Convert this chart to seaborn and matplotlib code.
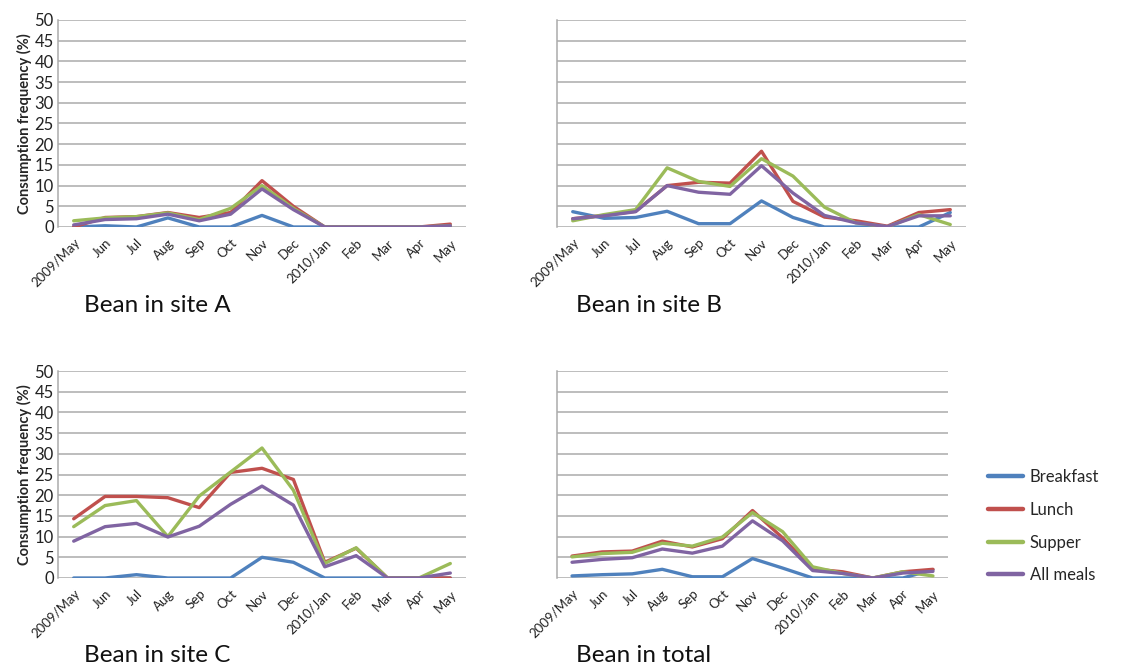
import matplotlib
matplotlib.use("Agg")
import matplotlib.pyplot as plt
import seaborn as sns
import pandas as pd
import numpy as np

sns.set_theme(style="white")
plt.rcParams["font.family"] = ["Lato", "DejaVu Sans"]

months = ["2009/May", "Jun", "Jul", "Aug", "Sep", "Oct", "Nov", "Dec",
          "2010/Jan", "Feb", "Mar", "Apr", "May"]
meals = ["Breakfast", "Lunch", "Supper", "All meals"]
colors = ["#4F81BD", "#C0504D", "#9BBB59", "#8064A2"]

# Site A
a_breakfast = [0.0, 0.3, 0.0, 2.2, 0.0, 0.0, 2.8, 0.0, 0.0, 0.0, 0.0, 0.0, 0.0]
a_lunch     = [0.0, 2.3, 2.5, 3.5, 2.3, 3.5, 11.2, 5.0, 0.0, 0.0, 0.0, 0.0, 0.7]
a_supper    = [1.5, 2.2, 2.5, 3.4, 1.8, 4.5, 10.0, 4.5, 0.0, 0.0, 0.0, 0.0, 0.3]
a_all       = [0.5, 1.8, 2.0, 3.1, 1.5, 3.1, 9.2, 4.2, 0.0, 0.0, 0.0, 0.0, 0.3]

# Site B
b_breakfast = [3.7, 2.1, 2.3, 3.8, 0.8, 0.8, 6.3, 2.3, 0.0, 0.0, 0.0, 0.0, 3.5]
b_lunch     = [2.0, 2.8, 3.8, 10.0, 10.8, 10.6, 18.3, 6.2, 2.4, 1.5, 0.2, 3.5, 4.2]
b_supper    = [1.5, 3.0, 4.2, 14.3, 11.0, 9.8, 16.5, 12.3, 4.8, 1.0, 0.0, 3.0, 0.6]
b_all       = [2.0, 2.7, 3.7, 10.0, 8.4, 7.9, 14.8, 8.2, 2.8, 1.0, 0.1, 2.7, 2.7]

# Site C
c_breakfast = [0.0, 0.0, 0.8, 0.0, 0.0, 0.0, 5.0, 3.8, 0.0, 0.0, 0.0, 0.0, 0.0]
c_lunch     = [14.3, 19.7, 19.7, 19.4, 17.0, 25.5, 26.5, 23.8, 3.8, 7.2, 0.0, 0.0, 0.0]
c_supper    = [12.4, 17.5, 18.7, 10.0, 19.8, 25.6, 31.4, 21.2, 3.5, 7.3, 0.0, 0.0, 3.5]
c_all       = [8.9, 12.4, 13.2, 9.9, 12.5, 17.8, 22.2, 17.6, 2.7, 5.4, 0.0, 0.0, 1.2]

# All sites together
t_breakfast = [0.5, 0.8, 1.0, 2.1, 0.3, 0.3, 4.7, 2.4, 0.0, 0.0, 0.0, 0.0, 2.0]
t_lunch     = [5.3, 6.3, 6.5, 8.9, 7.5, 9.5, 16.3, 9.7, 2.2, 1.5, 0.0, 1.5, 2.1]
t_supper    = [5.1, 5.9, 6.2, 8.4, 7.7, 9.9, 15.8, 11.2, 2.7, 1.1, 0.0, 1.5, 0.5]
t_all       = [3.8, 4.5, 4.9, 7.0, 6.0, 7.7, 13.8, 9.0, 1.8, 1.1, 0.0, 1.2, 1.6]

panels = [
    ("Bean in site A", [a_breakfast, a_lunch, a_supper, a_all]),
    ("Bean in site B", [b_breakfast, b_lunch, b_supper, b_all]),
    ("Bean in site C", [c_breakfast, c_lunch, c_supper, c_all]),
    ("Bean in total", [t_breakfast, t_lunch, t_supper, t_all]),
]

W, H = 1124, 666
fig = plt.figure(figsize=(W / 100, H / 100), dpi=100)

# axes boxes in pixels: left, top, right, bottom
boxes = [(58, 20, 466, 227), (557, 20, 966, 227),
         (58, 371, 466, 578), (557, 371, 948, 578)]
title_pos = [(84, 306), (576, 306), (84, 655), (576, 655)]

grid_color = "#ABABAB"
for i, ((title, series), (l, t, r, b)) in enumerate(zip(panels, boxes)):
    ax = fig.add_axes([l / W, 1 - b / H, (r - l) / W, (b - t) / H])
    df = pd.DataFrame({
        "month": np.tile(np.arange(len(months)), len(meals)),
        "value": np.concatenate(series),
        "meal": np.repeat(meals, len(months)),
    })
    sns.lineplot(data=df, x="month", y="value", hue="meal", hue_order=meals,
                 palette=colors, linewidth=2.4, ax=ax, legend=(i == 3))
    ax.set_xlim(-0.5, len(months) - 0.5)
    ax.set_ylim(0, 50)
    ax.set_yticks(range(0, 51, 5))
    ax.yaxis.grid(True, color=grid_color, linewidth=1.1)
    ax.set_axisbelow(True)
    ax.set_xticks(range(len(months)))
    ax.set_xticklabels(months, rotation=45, ha="right", rotation_mode="anchor",
                       fontsize=9.5, color="#222222")
    ax.tick_params(axis="x", length=0, pad=7)
    for s in ["top", "right", "bottom"]:
        ax.spines[s].set_visible(False)
    ax.spines["left"].set_color(grid_color)
    ax.spines["left"].set_linewidth(1.1)
    ax.set_xlabel("")
    if i in (0, 2):
        ax.tick_params(axis="y", labelsize=12, length=0, pad=3, labelcolor="#222222")
        ax.set_ylabel("Consumption frequency (%)", fontsize=10.5, fontweight="bold",
                      labelpad=2)
    else:
        ax.set_yticklabels([])
        ax.tick_params(axis="y", length=0)
        ax.set_ylabel("")
    fig.text(title_pos[i][0] / W, 1 - title_pos[i][1] / H, title, fontsize=17.5,
             va="center", ha="left", color="#111111")
    if i == 3:
        leg = ax.legend(loc="center left", bbox_to_anchor=(1.064, 0.25),
                        frameon=False, fontsize=12, handlelength=2.1,
                        handletextpad=0.4, labelspacing=1.0)
        for line in leg.get_lines():
            line.set_linewidth(3.2)

fig.savefig("out.png", dpi=100)
